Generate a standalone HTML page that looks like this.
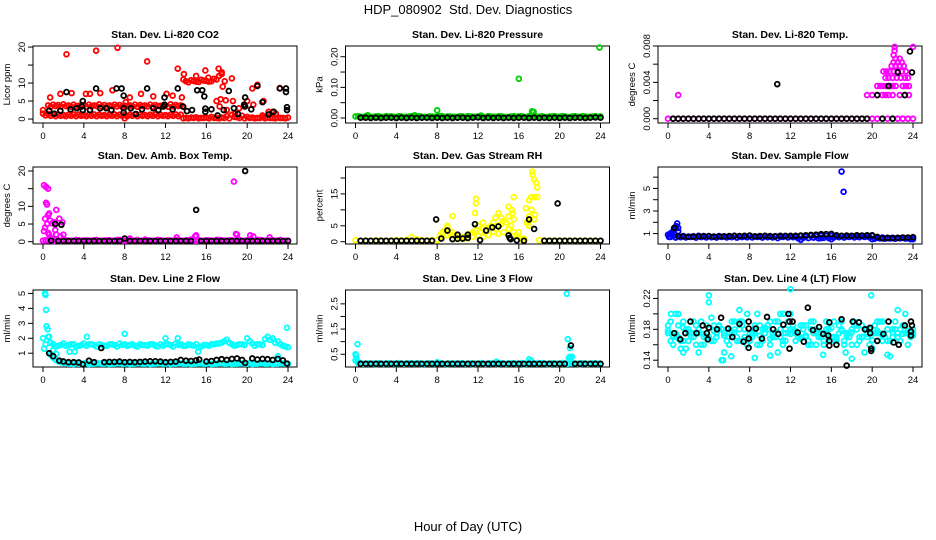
<!DOCTYPE html>
<html><head><meta charset="utf-8">
<style>
html,body{margin:0;padding:0;background:#fff;}
svg{display:block;font-family:"Liberation Sans",sans-serif;}
</style></head>
<body>
<svg id="chart" width="936" height="540" viewBox="0 0 936 540">
<text x="468" y="14" text-anchor="middle" font-size="13" style="white-space:pre">HDP_080902  Std. Dev. Diagnostics</text>
<text x="468" y="531" text-anchor="middle" font-size="13">Hour of Day (UTC)</text>
</svg>
<script>
const HALF = [0,0.5,1,1.5,2,2.5,3,3.5,4,4.5,5,5.5,6,6.5,7,7.5,8,8.5,9,9.5,10,10.5,11,11.5,12,12.5,13,13.5,14,14.5,15,15.5,16,16.5,17,17.5,18,18.5,19,19.5,20,20.5,21,21.5,22,22.5,23,23.5,24];
const QTR = [0.25,0.75,1.25,1.75,2.25,2.75,3.25,3.75,4.25,4.75,5.25,5.75,6.25,6.75,7.25,7.75,8.25,8.75,9.25,9.75,10.25,10.75,11.25,11.75,12.25,12.75,13.25,13.75,14.25,14.75,15.25,15.75,16.25,16.75,17.25,17.75,18.25,18.75,19.25,19.75,20.25,20.75,21.25,21.75,22.25,22.75,23.25,23.75];
const X_TICKS = [0,4,8,12,16,20,24];
const N = null;

// Panel 1: CO2
const co2BandA = [2.5,3.8,4,3.9,4.1,3.8,4,3.7,3.9,4,3.8,4.1,3.9,3.8,4,3.9,3.7,3.8,4,3.9,3.8,4,3.9,3.7,3.8,4.1,3.9,3.8,N,N,N,N,N,N,N,N,N,N,N,N,N,N,N,N,N,N,N,N,N];
const co2BandA2 = [N,3.4,3.6,3.5,3.6,3.4,3.5,3.6,3.4,3.5,3.6,3.5,3.4,3.6,3.5,3.4,3.6,3.5,3.4,3.6,3.5,3.4,3.6,3.5,3.4,3.5,3.6,3.4];
const co2BandB = [1.5,1.4,1.2,1.3,1.1,1.2,1.3,1.2,1.1,1.2,1.3,1.2,1.1,1.2,1.3,1.2,1.1,1.2,1.3,1.2,1.1,1.2,1.3,1.2,1.1,1.2,1.3,1.2,0.3,0.4,0.5,0.3,0.4,0.6,0.3,0.4,0.8,1.2,0.5,0.9,0.6,0.4,0.3,0.5,0.4,0.3,0.4,0.3,0.4];
const co2BandB2 = [1.0,0.9,0.8,0.9,0.8,0.9,0.8,0.9,0.8,0.9,0.8,0.9,0.8,0.9,0.8,0.9,0.8,0.9,0.8,0.9,0.8,0.9,0.8,0.9,0.8,0.9,0.8,0.2,0.2,0.3,0.2,0.3,0.2,0.3,0.2,0.3,0.2,0.6,0.3,0.2,0.3,0.2,0.3,0.2,0.3,0.2,0.3,0.2];
const co2BandC = [N,N,N,N,N,N,N,N,N,N,N,N,N,N,N,N,N,N,N,N,N,N,N,N,N,N,N,N,10.5,10.8,10.4,10.9,10.6,10.5,11,12.5];
const co2BandC2 = [N,N,N,N,N,N,N,N,N,N,N,N,N,N,N,N,N,N,N,N,N,N,N,N,N,N,N,11,10.2,10.6,10.3,10.7,10.4,11.2,12];
const co2Red = [[2.3,18],[5.2,19],[7.3,19.8],[10.2,16],[13.2,14],[0.7,6],[1.7,7],[2.8,7.2],[4.2,7],[4.6,7],[5.6,7.2],[6.8,8],[8.5,6],[9.6,7],[10.8,6.3],[12.1,7],[12.7,6.5],[13.6,6],[13.8,12.5],[15,12],[15.9,13.5],[17.2,14],[17.5,13],[17.6,9],[17.8,10.5],[18.5,11.3],[18.6,5],[17,5],[20.5,8.5],[21,9.5],[20,5],[21.6,5],[22.1,2],[22.5,2],[23.2,8.6],[19.7,3.5],[20.6,4],[16.2,11.5],[17.4,5.5],[17.9,5.2],[19.2,3],[18,2.5],[21.5,1],[22.8,1.5],[17.3,3.5],[18.8,1.5],[8,0.2],[8.1,4.7]];
const co2Black = [[0.6,2.3],[1.1,1.5],[1.7,2.3],[2.3,7.5],[2.7,2.7],[3.3,3],[3.8,3.5],[3.9,5],[3.9,2.5],[4.6,2.5],[5.2,8.5],[5.6,3],[6.2,3],[6.7,2.5],[7.2,8.5],[7.7,8.5],[7.9,6.5],[7.9,3],[7.9,1.8],[8.6,3],[9.1,1.4],[9.7,2.7],[10.2,8.5],[10.8,3],[11.3,2.5],[11.8,3.5],[11.9,4],[11.9,6],[12.7,2.7],[13.2,8.5],[13.7,3.5],[14.1,2.2],[14.6,2.5],[15.1,8],[15.6,8],[15.8,6.3],[15.9,2.9],[15.9,2],[16.5,2.7],[17.1,1],[17.7,2.5],[18.2,7.8],[18.7,3],[19.1,1.4],[19.7,4],[19.8,6],[19.8,3.5],[20.4,2.7],[21,9.2],[21.5,4.7],[22.1,1.3],[22.6,2],[23.2,8.5],[23.8,8.5],[23.8,7.5],[23.9,3.3],[23.9,2.5]];

// Panel 2: Pressure
const presBand = [0.005,0.004,0.006,0.003,0.005,0.004,0.006,0.005,0.003,0.005,0.004,0.006,0.005,0.004,0.003,0.005,0.004,0.006,0.005,0.004,0.003,0.005,0.006,0.004,0.005,0.003,0.006,0.004,0.005,0.004,0.003,0.006,0.005,0.004,0.006,0.005,0.004,0.003,0.005,0.006,0.004,0.005,0.003,0.006,0.004,0.005,0.004,0.006,0.005];
const presBand2 = [0.006,0.003,0.005,0.004,0.006,0.003,0.005,0.004,0.006,0.003,0.005,0.004,0.006,0.003,0.005,0.004,0.006,0.003,0.005,0.004,0.006,0.003,0.005,0.004,0.006,0.003,0.005,0.004,0.006,0.003,0.005,0.004,0.006,0.003,0.005,0.004,0.006,0.003,0.005,0.004,0.006,0.003,0.005,0.004,0.006,0.003,0.005,0.004];
const presBlack = [N,0.001,0.001,0.0,0.001,0.0,0.001,0.001,0.0,0.001,0.0,0.001,0.0,0.001,0.001,0.0,0.001,0.0,0.001,0.0,0.001,0.001,0.0,0.001,0.002,0.0,0.001,0.0,0.001,0.0,0.001,0.0,0.001,0.001,0.0,0.001,0.0,0.001,0.0,0.001,0.0,0.001,0.0,0.001,0.001,0.0,0.001,0.002,0.001];
const presGreen = [[8,0.025],[16,0.128],[17.3,0.022],[17.45,0.02],[23.9,0.23],[5.8,0.009],[1.2,0.009],[12.3,0.008]];

// Panel 3: Li-820 temp
const tempBand = [0,0,0,0,0,0,0,0,0,0,0,0,0,0,0,0,0,0,0,0,0,0,0,0,0,0,0,0,0,0,0,0,0,0,0,0,0,0,0,0,0,0,0,0,0,0,0,0,0];
const tempMag = [[1,0.0026],[19.5,0.0026],[20,0.0026],[20.5,0.0026],[21,0.0026],[21.3,0.0026],[21.6,0.0026],[22,0.0026],[22.7,0.0026],[23.2,0.0026],[23.6,0.0026],[20.5,0.0036],[20.8,0.0036],[21.1,0.0036],[21.4,0.0036],[21.7,0.0036],[22,0.0036],[22.3,0.0036],[23,0.0036],[23.3,0.0036],[23.6,0.0036],[21.3,0.0045],[21.6,0.0045],[22,0.0045],[22.4,0.0045],[22.8,0.0045],[23.2,0.0045],[23.5,0.0045],[21.1,0.0052],[21.4,0.0052],[21.7,0.0052],[22.1,0.0052],[22.5,0.0052],[22.9,0.0052],[23.3,0.0052],[21.9,0.0058],[22.3,0.0058],[22.7,0.0058],[23.1,0.0058],[22.1,0.0062],[22.5,0.0062],[22.9,0.0062],[22.3,0.0066],[22.7,0.0066],[22.1,0.007],[22.2,0.0075],[22.2,0.0079],[24,0.0079],[22.5,0],[23,0],[23.5,0]];
const tempBlack = [[0.5,0],[1,0],[1.5,0],[2,0],[2.5,0],[3,0],[3.5,0],[4,0],[4.5,0],[5,0],[5.5,0],[6,0],[6.5,0],[7,0],[7.5,0],[8,0],[8.5,0],[9,0],[9.5,0],[10,0],[10.5,0],[11,0],[11.5,0],[12,0],[12.5,0],[13,0],[13.5,0],[14,0],[14.5,0],[15,0],[15.5,0],[16,0],[16.5,0],[17,0],[17.5,0],[18,0],[18.5,0],[19,0],[19.5,0],[21,0],[22,0],[10.7,0.0038],[20.5,0.0026],[21.6,0.0036],[22.5,0.0051],[23.2,0.0026],[23.7,0.0074],[23.9,0.0051]];

// Panel 4: Ambient box temp
const ambBand = [0.3,0.4,0.2,0.3,0.4,0.3,0.2,0.4,0.3,0.3,0.4,0.2,0.3,0.4,0.3,0.5,0.3,0.4,0.3,0.2,0.4,0.3,0.3,0.4,0.2,0.3,0.5,0.3,0.4,0.6,0.3,0.2,0.4,0.3,0.5,0.4,0.3,0.4,0.3,0.2,0.4,0.3,0.5,0.4,0.3,0.4,0.3,0.2,0.3];
const ambBand2 = [0.4,0.3,0.5,0.3,0.4,0.3,0.5,0.3,0.4,0.3,0.5,0.3,0.4,0.3,0.5,0.3,0.4,0.3,0.5,0.3,0.4,0.3,0.5,0.3,0.4,0.3,0.5,0.3,0.4,0.3,0.5,0.3,0.4,0.3,0.5,0.3,0.4,0.3,0.5,0.3,0.4,0.3,0.5,0.3,0.4,0.3,0.5,0.3];
const ambMag = [[0.1,16],[0.3,15.5],[0.5,15],[0.3,11],[0.4,10.5],[1.3,9],[0.6,8],[0.5,7.5],[0.2,6.5],[1.6,6.5],[0.7,6],[1.1,5.5],[1.9,5.5],[0.9,5.2],[0.4,5],[0.1,3],[0.5,2.5],[1.2,3.3],[0.2,4],[0.6,2],[0.8,1],[1.7,1.5],[2,2],[1.3,2],[18.7,17],[14.9,1.5],[15,1.8],[18.9,2.2],[19,2],[20.3,1.8],[20.6,1.5],[22.2,1.2],[8.5,0.9],[13.1,1.2],[10,0.6]];
const ambBlack = [[1.2,5],[1.8,4.8],[15,9],[19.8,20],[0.8,0.3],[8,0.9],[1.5,0.2],[2,0.2],[2.5,0.2],[3,0.2],[3.5,0.2],[4,0.2],[4.5,0.2],[5,0.2],[5.5,0.2],[6,0.2],[6.5,0.2],[7,0.2],[7.5,0.2],[8.5,0.2],[9,0.2],[9.5,0.2],[10,0.2],[10.5,0.2],[11,0.2],[11.5,0.2],[12,0.2],[12.5,0.2],[13,0.2],[13.5,0.2],[14,0.2],[14.5,0.2],[15.5,0.2],[16,0.2],[16.5,0.2],[17,0.2],[17.5,0.2],[18,0.2],[18.5,0.2],[19,0.2],[19.5,0.2],[20,0.2],[20.5,0.2],[21,0.2],[21.5,0.2],[22,0.2],[22.5,0.2],[23,0.2],[23.5,0.2],[24,0.2]];

// Panel 5: Gas stream RH
const rhBand = [0.5,0.3,0.4,0.3,0.5,0.4,0.3,0.4,0.5,0.4,0.6,1.5,0.8,0.5,0.4,0.5,0.5,3,4.5,3,2,1.5,2,3,5,4,4.5,6,5,6.5,8,7,3,1,8,14,0.5,0.4,0.3,0.4,0.3,0.4,0.3,0.4,0.3,0.4,0.3,0.4,0.3];
const rhLow = [N,N,N,N,N,N,N,N,N,N,N,N,N,N,N,N,0.5,1.5,2,1,1,0.8,1,1.5,2,1.5,2,3,2.5,3,4,3,1.5,0.5,5,7];
const rhMid = [N,N,N,N,N,N,N,N,N,N,N,N,N,N,N,N,2,3.5,2.5,1.8,1.2,1.5,2.5,3.5,3,3.5,5,4,5.5,6,5,2,0.8,6,10];
const rhYellow = [[9.5,8],[9,5],[11.8,13.5],[11.8,12],[11.7,9],[14,9],[14.3,7.5],[15,11],[15.3,10],[15.5,14],[16.7,10.5],[17,13],[17.2,14],[17.3,22],[17.35,21],[17.5,19.5],[17.7,18.5],[17.8,17],[17.8,14],[12.5,6],[13.7,7.5],[15.4,9],[16.9,6],[17.6,8.5]];
const rhBlack = [[0.5,0.3],[1,0.3],[1.5,0.3],[2,0.3],[2.5,0.3],[3,0.3],[3.5,0.3],[4,0.3],[4.5,0.3],[5,0.3],[5.5,0.3],[6,0.3],[6.5,0.3],[7,0.3],[7.5,0.3],[7.9,7],[8.4,1],[9,3.5],[9.5,0.8],[10,0.9],[10.5,1],[11,1.2],[11,2.2],[10,2.2],[11.7,5.5],[12.2,0.5],[12.8,3.5],[13.4,4.5],[14,4.8],[15,2],[15.1,1.2],[15.2,0.8],[15.8,0.4],[17,7],[17.5,4],[19.8,12],[16.5,0.3],[18.5,0.3],[19,0.3],[19.5,0.3],[20,0.3],[20.5,0.3],[21,0.3],[21.5,0.3],[22,0.3],[22.5,0.3],[23,0.3],[23.5,0.3],[24,0.3]];

// Panel 6: Sample flow
const flowBand = [0.9,0.8,0.75,0.78,0.72,0.76,0.8,0.74,0.77,0.73,0.78,0.75,0.72,0.79,0.76,0.74,0.8,0.75,0.73,0.78,0.74,0.77,0.72,0.79,0.75,0.73,0.78,0.74,0.8,0.76,0.82,0.78,0.8,0.75,0.78,0.74,0.77,0.73,0.78,0.75,0.8,0.62,0.65,0.6,0.63,0.61,0.64,0.6,0.62];
const flowBand2 = [0.7,0.65,0.68,0.66,0.7,0.64,0.69,0.66,0.68,0.65,0.7,0.66,0.68,0.64,0.69,0.67,0.66,0.7,0.65,0.68,0.66,0.6,0.7,0.66,0.68,0.58,0.62,0.6,0.64,0.58,0.62,0.6,0.66,0.68,0.65,0.7,0.66,0.68,0.7,0.66,0.55,0.58,0.55,0.57,0.55,0.58,0.56,0.5];
const flowBlue = [[0.2,0.95],[0.3,1.05],[0.5,1.2],[0.6,1.35],[0.7,1.45],[0.8,1.65],[0.9,1.9],[1,1.5],[1,1.2],[0.1,0.7],[17,6.5],[17.2,4.7],[13,0.45],[20,0.5],[24,0.5],[15,0.6],[16,0.5]];
const flowBlack = [[0.6,1.5],[1,0.78],[1.5,0.75],[2,0.72],[2.5,0.72],[3,0.75],[3.5,0.78],[4,0.78],[4.5,0.72],[5,0.75],[5.5,0.75],[6,0.78],[6.5,0.8],[7,0.78],[7.5,0.8],[8,0.82],[8.5,0.75],[9,0.78],[9.5,0.8],[10,0.78],[10.5,0.75],[11,0.8],[11.5,0.78],[12,0.8],[12.5,0.8],[13,0.82],[13.5,0.85],[14,0.88],[14.5,0.9],[15,0.95],[15.5,0.95],[16,0.97],[16.5,0.85],[17,0.8],[17.5,0.82],[18,0.8],[18.5,0.85],[19,0.82],[19.5,0.85],[20,0.85],[20.5,0.7],[21,0.58],[21.5,0.62],[22,0.6],[22.5,0.62],[23,0.65],[23.5,0.65],[24,0.68]];

// Panel 7: Line 2 flow
const l2High = [2,2.1,1.6,1.5,1.65,1.55,1.6,1.5,1.65,1.6,1.55,1.6,1.5,1.6,1.55,1.65,1.6,1.55,1.5,1.6,1.55,1.6,1.5,1.6,1.6,1.55,1.65,1.6,1.5,1.55,1.6,1.45,1.55,1.6,1.65,1.7,1.9,1.6,1.55,1.6,2,1.65,1.6,1.55,2.1,2,1.8,1.5,1.4];
const l2High2 = [1.6,1.7,1.45,1.55,1.5,1.6,1.45,1.55,1.5,1.6,1.45,1.55,1.5,1.6,1.45,1.55,1.5,1.6,1.45,1.55,1.5,1.6,1.45,1.5,1.6,1.45,1.55,1.5,1.6,1.5,1.4,1.55,1.5,1.6,1.65,1.8,1.7,1.5,1.6,1.55,1.8,1.5,1.6,1.95,1.9,1.7,1.6,1.45];
const l2Low = [N,N,0.7,0.45,0.35,0.3,0.28,0.3,0.32,0.28,0.3,0.32,0.3,0.28,0.3,0.32,0.3,0.28,0.3,0.32,0.3,0.28,0.3,0.32,0.3,0.28,0.3,0.32,0.3,0.28,0.3,0.32,0.3,0.28,0.3,0.32,0.3,0.28,0.3,0.32,0.3,0.28,0.3,0.32,0.3,0.28,0.3,0.32,0.3];
const l2Low2 = [N,0.9,0.55,0.4,0.35,0.3,0.35,0.3,0.33,0.3,0.35,0.3,0.33,0.3,0.35,0.3,0.33,0.3,0.35,0.3,0.33,0.3,0.35,0.3,0.33,0.3,0.35,0.3,0.33,0.3,0.35,0.3,0.33,0.3,0.35,0.3,0.33,0.3,0.35,0.3,0.33,0.3,0.35,0.3,0.33,0.3,0.35,0.3];
const l2Cyan = [[0.1,1.3],[0.2,5],[0.25,4.9],[0.3,3.9],[0.35,2.8],[0.45,2.6],[0.6,2.1],[0.7,1.7],[1,1.2],[1.3,0.95],[8,2.3],[4.3,2.1],[23.9,2.7],[12,2],[13.2,2],[2.6,1.1],[3.1,1.1],[15.2,1.1],[23,0.8]];
const l2Black = [[0.6,1],[1,0.8],[1.6,0.5],[2,0.45],[2.5,0.4],[3,0.4],[3.5,0.38],[3.9,0.25],[4.5,0.5],[5,0.4],[5.7,1.35],[6,0.4],[6.5,0.42],[7,0.42],[7.5,0.44],[8,0.4],[8.5,0.42],[9,0.4],[9.5,0.42],[10,0.44],[10.5,0.46],[11,0.46],[11.5,0.44],[12,0.4],[12.5,0.42],[13,0.44],[13.5,0.55],[14,0.5],[14.5,0.48],[15,0.52],[15.3,0.58],[16,0.45],[16.5,0.48],[17,0.55],[17.5,0.6],[18,0.55],[18.5,0.62],[19,0.65],[19.5,0.55],[19.8,0.35],[20.5,0.65],[21,0.58],[21.5,0.62],[22,0.6],[22.5,0.55],[23,0.62],[23.5,0.52],[23.9,0.3]];

// Panel 8: Line 3 flow
const l3Band = [0.25,0.15,0.12,0.12,0.11,0.12,0.13,0.12,0.11,0.12,0.12,0.13,0.12,0.11,0.12,0.12,0.13,0.12,0.11,0.12,0.12,0.13,0.12,0.11,0.12,0.12,0.13,0.12,0.11,0.12,0.12,0.13,0.12,0.11,0.12,0.12,0.13,0.12,0.11,0.12,0.12,0.13,0.15,0.12,0.11,0.12,0.12,0.13,0.12];
const l3Band2 = [0.15,0.12,0.14,0.13,0.15,0.12,0.14,0.13,0.15,0.12,0.14,0.13,0.15,0.12,0.14,0.13,0.15,0.12,0.14,0.13,0.15,0.12,0.14,0.13,0.15,0.12,0.14,0.13,0.15,0.12,0.14,0.13,0.15,0.12,0.14,0.13,0.15,0.12,0.14,0.13,0.15,0.12,0.14,0.13,0.15,0.12,0.14,0.13];
const l3Cyan = [[0,0.5],[0.05,0.45],[0.2,0.9],[0.1,0.35],[0.2,0.2],[20.7,2.9],[20.8,1.1],[21,0.75],[21,0.4],[20.9,0.35],[21.2,0.4],[17,0.3],[17.2,0.25],[13.8,0.2],[8,0.18]];
const l3Black = [[0.5,0.12],[1,0.12],[1.5,0.12],[2,0.12],[2.5,0.12],[3,0.12],[3.5,0.12],[4,0.12],[4.5,0.12],[5,0.12],[5.5,0.12],[6,0.12],[6.5,0.12],[7,0.12],[7.5,0.12],[8,0.12],[8.5,0.12],[9,0.12],[9.5,0.12],[10,0.12],[10.5,0.12],[11,0.12],[11.5,0.12],[12,0.12],[12.5,0.12],[13,0.12],[13.5,0.12],[14,0.12],[14.5,0.12],[15,0.12],[15.5,0.12],[16,0.12],[16.5,0.12],[17,0.12],[17.5,0.12],[18,0.12],[18.5,0.12],[19,0.12],[19.5,0.12],[20,0.12],[20.5,0.12],[21.1,0.85],[21.5,0.12],[22,0.12],[22.5,0.12],[23,0.12],[23.5,0.12],[24,0.12]];

// Panel 9: Line 4 (LT) flow
const lt4A = [.175,.17,.185,.165,.18,.19,.175,.16,.17,.185,.18,.15,.175,.19,.165,.18,.17,.185,.16,.175,.19,.17,.18,.165,.2,.175,.17,.185,.16,.18,.175,.19,.165,.17,.18,.175,.16,.185,.17,.18,.155,.175,.19,.165,.18,.17,.185,.175,.18];
const lt4B = [.19,.2,.165,.155,.175,.185,.16,.17,.195,.175,.18,.165,.19,.17,.185,.16,.175,.2,.165,.18,.17,.19,.16,.175,.185,.17,.18,.165,.19,.175,.16,.18,.17,.185,.165,.175,.19,.17,.18,.16,.185,.175,.17,.165,.19,.18,.175,.17];
const lt4C = [.185,.16,.17,.19,.165,.175,.18,.17,.215,.165,.185,.175,.16,.18,.19,.17,.165,.175,.185,.18,.16,.19,.17,.175,.18,.165,.185,.17,.19,.16,.175,.18,.17,.165,.19,.175,.18,.16,.185,.17,.175,.19,.165,.18,.17,.175,.185,.16,.175];
const lt4D = [.165,.175,.155,.18,.17,.16,.19,.185,.165,.17,.14,.18,.175,.165,.19,.2,.17,.16,.18,.185,.175,.15,.165,.19,.18,.17,.185,.16,.175,.17,.165,.18,.19,.175,.16,.17,.185,.165,.15,.18,.175,.19,.17,.145,.18,.165,.2,.175];
const lt4E = [.178,.172,.168,.182,.176,.17,.18,.174,.168,.178,.184,.172,.17,.176,.18,.166,.174,.178,.172,.182,.168,.176,.17,.18,.174,.178,.168,.172,.18,.176,.17,.174,.182,.168,.178,.172,.176,.18,.17,.174,.166,.178,.172,.18,.176,.17,.174,.178,.172];
const lt4Out = [[4,0.224],[12,0.232],[19.9,0.224],[0.3,0.2],[1,0.2],[7,0.205],[22.5,0.205],[1.5,0.15],[3,0.15],[5.4,0.14],[6.2,0.145],[8.5,0.143],[10,0.146],[15.2,0.147],[17.4,0.15],[18,0.142],[21.5,0.147],[11,0.2],[11.3,0.2]];
const lt4Black = [[0.6,0.175],[1.2,0.167],[1.7,0.175],[2.2,0.19],[2.8,0.175],[3.4,0.185],[3.8,0.175],[3.9,0.167],[4,0.182],[4.8,0.18],[5.2,0.195],[5.9,0.181],[6.3,0.17],[7,0.187],[7.4,0.164],[7.9,0.19],[7.9,0.181],[7.9,0.168],[7.9,0.156],[8.6,0.181],[9.2,0.168],[9.7,0.196],[10.3,0.18],[10.8,0.174],[11.3,0.186],[11.8,0.2],[11.9,0.19],[11.9,0.155],[12.2,0.19],[12.7,0.176],[13.3,0.164],[13.7,0.208],[14.2,0.179],[14.8,0.183],[15.2,0.174],[15.7,0.172],[15.8,0.189],[15.8,0.165],[15.8,0.159],[16.5,0.16],[17,0.193],[17.5,0.133],[18.1,0.19],[18.7,0.189],[19.3,0.18],[19.8,0.175],[19.8,0.182],[19.9,0.155],[19.9,0.152],[20.5,0.165],[21.1,0.174],[21.6,0.19],[22.1,0.163],[22.6,0.16],[23.2,0.185],[23.8,0.19],[23.8,0.177],[23.8,0.172],[23.9,0.185]];

const NS = "http://www.w3.org/2000/svg";
const svg = document.getElementById('chart');
function mk(tag, attrs, parent){ const e=document.createElementNS(NS,tag); for(const k in attrs) e.setAttribute(k,attrs[k]); (parent||svg).appendChild(e); return e; }

const COL_LEFT=[33,345.5,658], ROW_TOP=[46,167,290], W=264, H=77;
const X_LO=-0.98, X_HI=24.88;

function makePanel(col,row,name,title,ytitle,ylo,yhi,yticks,ylabels){
  const g=mk('g',{});
  
  
  const L=COL_LEFT[col], T=ROW_TOP[row];
  const sx=v=>L+(v-X_LO)/(X_HI-X_LO)*W;
  const sy=v=>T+H-(v-ylo)/(yhi-ylo)*H;
  const t=mk('text',{x:L+W/2,y:T-8,'text-anchor':'middle','font-size':10.5,'font-weight':'bold'},g);
  t.textContent=title;
  
  
  const box=mk('rect',{x:L,y:T,width:W,height:H,fill:'none',stroke:'#000','stroke-width':1},g);
  
  
  const xa=mk('g',{},g);
  
  
  mk('line',{x1:sx(X_TICKS[0]),x2:sx(X_TICKS[X_TICKS.length-1]),y1:T+H,y2:T+H,stroke:'#000'},xa);
  X_TICKS.forEach(v=>{
    mk('line',{x1:sx(v),x2:sx(v),y1:T+H,y2:T+H+5,stroke:'#000'},xa);
    const tx=mk('text',{x:sx(v),y:T+H+16,'text-anchor':'middle','font-size':9.5},xa);
    tx.textContent=v;
  });
  const ya=mk('g',{},g);
  
  
  mk('line',{x1:L,x2:L,y1:sy(yticks[0]),y2:sy(yticks[yticks.length-1]),stroke:'#000'},ya);
  yticks.forEach((v,i)=>{
    mk('line',{x1:L-5,x2:L,y1:sy(v),y2:sy(v),stroke:'#000'},ya);
    if(ylabels[i]){
      const tx=mk('text',{x:0,y:0,'text-anchor':'middle','font-size':9.5,transform:`translate(${L-8},${sy(v)}) rotate(-90)`},ya);
      tx.textContent=ylabels[i];
    }
  });
  const yt=mk('text',{x:0,y:0,'text-anchor':'middle','font-size':9.5,transform:`translate(${L-23},${T+H/2}) rotate(-90)`},g);
  yt.textContent=ytitle;
  
  
  const pts=mk('g',{fill:'none','stroke-width':1.8},g);
  
  
  function dot(h,v,color){
    if(v===null||v===undefined) return;
    const c=mk('circle',{cx:sx(h),cy:sy(v),r:2.4,stroke:color},pts);
    
    
  }
  return {
    grid:(hours,vals,color)=>vals.forEach((v,i)=>dot(hours[i],v,color)),
    pairs:(arr,color)=>arr.forEach(p=>dot(p[0],p[1],color))
  };
}

const RED='#ff0000',GRN='#00cd00',MAG='#ff00ff',YEL='#ffff00',BLU='#0000ff',CYN='#00ffff',BLK='#000000';

let p=makePanel(0,0,'co2-panel','Stan. Dev. Li-820 CO2','Licor ppm',-1.1,20.3,[0,5,10,15,20],['0','5','10','','20']);
p.grid(HALF,co2BandA,RED);p.grid(QTR,co2BandA2,RED);p.grid(HALF,co2BandB,RED);p.grid(QTR,co2BandB2,RED);p.grid(HALF,co2BandC,RED);p.grid(QTR,co2BandC2,RED);p.pairs(co2Red,RED);p.pairs(co2Black,BLK);

p=makePanel(1,0,'pressure-panel','Stan. Dev. Li-820 Pressure','kPa',-0.0163,0.235,[0,0.05,0.1,0.15,0.2],['0.00','','0.10','','0.20']);
p.grid(HALF,presBand,GRN);p.grid(QTR,presBand2,GRN);p.pairs(presGreen,GRN);p.grid(HALF,presBlack,BLK);

p=makePanel(2,0,'li820-temp-panel','Stan. Dev. Li-820 Temp.','degrees C',-0.00047,0.008,[0,0.002,0.004,0.006,0.008],['0.000','','0.004','','0.008']);
p.grid(HALF,tempBand,MAG);p.pairs(tempMag,MAG);p.pairs(tempBlack,BLK);

p=makePanel(0,1,'box-temp-panel','Stan. Dev. Amb. Box Temp.','degrees C',-0.65,21.13,[0,5,10,15,20],['0','5','10','','20']);
p.grid(HALF,ambBand,MAG);p.grid(QTR,ambBand2,MAG);p.pairs(ambMag,MAG);p.pairs(ambBlack,BLK);

p=makePanel(1,1,'rh-panel','Stan. Dev. Gas Stream RH','percent',-0.72,23.45,[0,5,10,15,20],['0','5','','15','']);
p.grid(HALF,rhBand,YEL);p.grid(HALF,rhLow,YEL);p.grid(QTR,rhMid,YEL);p.pairs(rhYellow,YEL);p.pairs(rhBlack,BLK);

p=makePanel(2,1,'sample-flow-panel','Stan. Dev. Sample Flow','ml/min',0.075,6.9,[1,2,3,4,5,6],['1','','3','','5','']);
p.grid(HALF,flowBand,BLU);p.grid(QTR,flowBand2,BLU);p.pairs(flowBlue,BLU);p.pairs(flowBlack,BLK);

p=makePanel(0,2,'line2-flow-panel','Stan. Dev. Line 2 Flow','ml/min',0.078,5.23,[1,2,3,4,5],['1','2','3','4','5']);
p.grid(HALF,l2High,CYN);p.grid(QTR,l2High2,CYN);p.grid(HALF,l2Low,CYN);p.grid(QTR,l2Low2,CYN);p.pairs(l2Cyan,CYN);p.pairs(l2Black,BLK);

p=makePanel(1,2,'line3-flow-panel','Stan. Dev. Line 3 Flow','ml/min',-0.006,3.05,[0.5,1,1.5,2,2.5],['0.5','','1.5','','2.5']);
p.grid(HALF,l3Band,CYN);p.grid(QTR,l3Band2,CYN);p.pairs(l3Cyan,CYN);p.pairs(l3Black,BLK);

p=makePanel(2,2,'line4-flow-panel','Stan. Dev. Line 4 (LT) Flow','ml/min',0.1312,0.2309,[0.14,0.16,0.18,0.2,0.22],['0.14','','0.18','','0.22']);
p.grid(HALF,lt4A,CYN);p.grid(QTR,lt4B,CYN);p.grid(HALF,lt4C,CYN);p.grid(QTR,lt4D,CYN);p.grid(HALF,lt4E,CYN);p.pairs(lt4Out,CYN);p.pairs(lt4Black,BLK);
</script>
</body></html>
